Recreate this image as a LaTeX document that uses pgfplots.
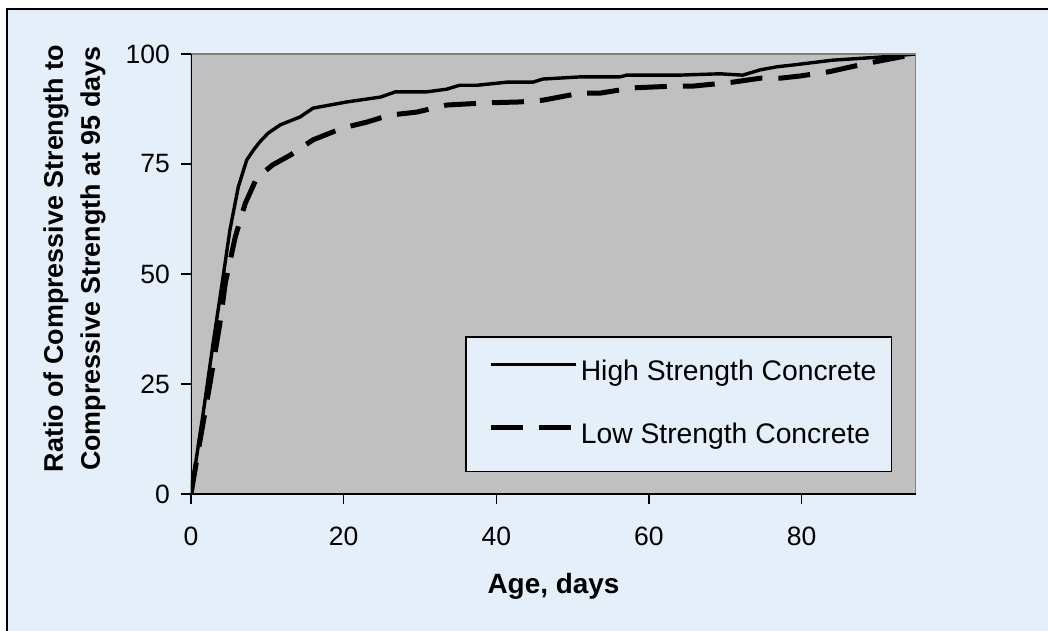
\documentclass[border=0pt]{standalone}
\usepackage{fontspec}
\setmainfont{Liberation Sans}
\usepackage{pgfplots}
\pgfplotsset{compat=1.18}
\definecolor{bgblue}{RGB}{229,239,250}
\definecolor{plotgray}{RGB}{192,192,192}
\definecolor{framegray}{RGB}{128,128,128}
\begin{document}
\begin{tikzpicture}
\path[use as bounding box] (-95.5bp,-68.5bp) rectangle (428.5bp,247bp);
\fill[white] (-95.5bp,-68.5bp) rectangle (428.5bp,247bp);
\fill[bgblue] (-92bp,-72bp) rectangle (432bp,242.5bp);
\draw[black, line width=1bp] (-92bp,-72bp) -- (-92bp,242.5bp) -- (432bp,242.5bp);
\begin{axis}[
  at={(0,0)}, anchor=south west,
  scale only axis, width=362.5bp, height=220bp,
  xmin=0, xmax=95, ymin=0, ymax=100,
  xtick={0,20,40,60,80}, ytick={0,25,50,75,100},
  tick align=outside, xtick pos=left, ytick pos=left,
  major tick length=5bp,
  tick style={black, line width=0.75bp},
  axis line style={draw=none},
  axis background/.style={fill=plotgray},
  ticklabel style={font=\fontsize{13.3}{15}\selectfont},
  /pgf/number format/assume math mode=true,
  xticklabel style={yshift=-8bp},
  yticklabel style={xshift=-2bp},
  xlabel={Age, days},
  xlabel style={font=\fontsize{14}{16}\selectfont\bfseries, at={(axis description cs:0.5,-0.211)}, anchor=center},
  ylabel={Ratio of Compressive Strength to\\Compressive Strength at 95 days},
  ylabel style={font=\fontsize{13.5}{18.5}\selectfont\bfseries, align=center, at={(axis description cs:-0.1607,0.535)}, anchor=center},
  legend style={at={(0.378,0.05)}, anchor=south west, fill=bgblue, draw=black, line width=0.75bp,
    inner xsep=7.5bp, inner ysep=11bp, row sep=18bp, column sep=0pt,
    font=\fontsize{14.2}{17}\selectfont,
    nodes={inner sep=0pt, text height=10bp, text depth=3bp}},
  legend cell align=left,
  legend image code/.code={
    \path[draw=none, fill=none] (0bp,0bp) rectangle (50bp,7bp);
    \draw[#1] (5bp,4.5bp) -- (47.5bp,4.5bp);
  },
]
\addplot[black, line width=1.7bp, line join=round] coordinates {
(0,0) (1.6,18.4) (2.9,34.3) (4.2,49.3) (5.1,60) (6.2,69.8) (7.3,75.9) (8.2,78.2)
(9,80) (10.1,82) (11.7,83.9) (14.3,85.7) (16,87.7) (20.4,89.1) (24.8,90.2)
(26.8,91.4) (30.9,91.4) (33.5,92) (35.2,92.9) (37.5,92.9) (41.4,93.6) (44.8,93.6)
(46.1,94.3) (51,94.8) (56.2,94.8) (57.1,95.2) (64,95.2) (69.3,95.5) (72.3,95.2)
(74.6,96.4) (76.8,97.1) (78.9,97.5) (84.1,98.6) (90.3,99.3) (95,100)
};
\addlegendentry{High Strength Concrete}
\addplot[black, line width=2.5bp, dash pattern=on 16bp off 8bp] coordinates {
(0,0) (1.2,12.3) (2.5,25.2) (3.8,38.9) (4.5,48) (5.8,58.4) (7.1,66) (8.6,71.8)
(10.7,74.8) (13,77) (16,80.5) (17.6,81.6) (19.9,83.2) (23,84.5) (26,86.1)
(29.6,86.8) (33.5,88.4) (38.8,88.9) (43.1,89.1) (46.1,89.5) (51,91.1) (53.6,91.1)
(57.9,92.3) (63.2,92.7) (65.8,92.7) (71,93.6) (74.6,94.5) (77.2,94.5) (79.8,95)
(83.7,96) (88.1,97.7) (95,100)
};
\addlegendentry{Low Strength Concrete}
\draw[framegray, line width=0.75bp] (rel axis cs:0,1) -- (rel axis cs:1,1) -- (rel axis cs:1,0);
\draw[black, line width=1bp] (rel axis cs:0,1) -- (rel axis cs:0,0) -- (rel axis cs:1,0);
\end{axis}
\end{tikzpicture}
\end{document}
